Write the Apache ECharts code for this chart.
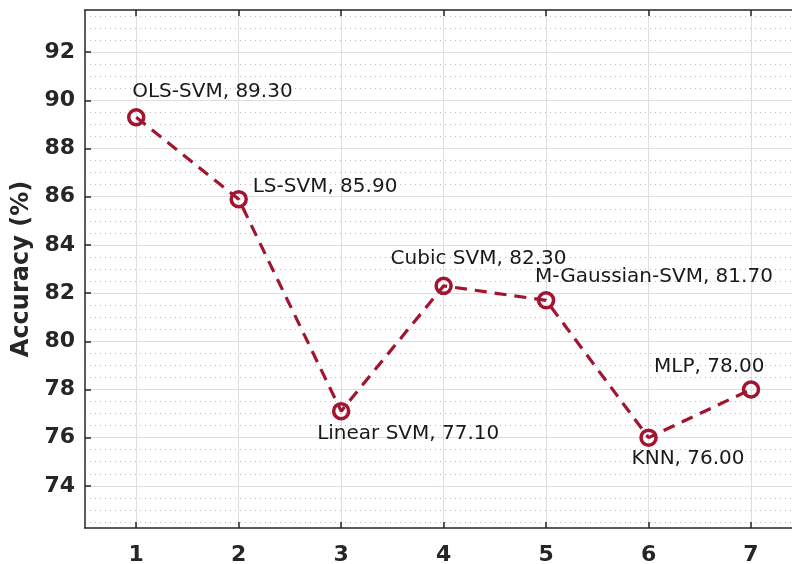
<!DOCTYPE html>
<html><head><meta charset="utf-8">
<script src="https://cdn.jsdelivr.net/npm/echarts@6/dist/echarts.min.js"></script>
<style>html,body{margin:0;padding:0;background:#fff}#c{width:792px;height:564px}</style>
</head><body><div id="c"></div>
<script>
const xValues = [1, 2, 3, 4, 5, 6, 7];
const models = ['OLS-SVM', 'LS-SVM', 'Linear SVM', 'Cubic SVM', 'M-Gaussian-SVM', 'KNN', 'MLP'];
const accuracy = [89.30, 85.90, 77.10, 82.30, 81.70, 76.00, 78.00];
const xTicks = [1, 2, 3, 4, 5, 6, 7];
const yTicks = [74, 76, 78, 80, 82, 84, 86, 88, 90, 92];
const yMinorTicks = [72.5, 73, 73.5, 74.5, 75, 75.5, 76.5, 77, 77.5, 78.5, 79, 79.5, 80.5, 81, 81.5,
  82.5, 83, 83.5, 84.5, 85, 85.5, 86.5, 87, 87.5, 88.5, 89, 89.5, 90.5, 91, 91.5, 92.5, 93, 93.5];

// label placement (style), px offsets from the marker centre
const labelOffsets = [[-4, -25], [14, -12], [-24, 23], [-53, -27], [-11, -24], [-17, 21], [-97, -23]];

const FONT = 'DejaVu Sans';
const AX = '#262626';
const RED = '#A2142F';

const chart = echarts.init(document.getElementById('c'), null, {renderer: 'canvas'});
const data = xValues.map((x, i) => ({
  value: [x, accuracy[i]],
  label: {offset: labelOffsets[i]}
}));

chart.setOption({
  animation: false,
  backgroundColor: '#fff',
  grid: {left: 85, top: 10, right: 0, bottom: 36, containLabel: false, outerBoundsMode: 'none'},
  xAxis: [{
    type: 'value', min: 0.5, max: 7.4, position: 'bottom',
    axisLine: {show: true, onZero: false, lineStyle: {color: AX, width: 1.5}},
    axisTick: {show: true, inside: true, length: 6, customValues: xTicks, lineStyle: {color: AX, width: 1.5}},
    axisLabel: {customValues: xTicks, margin: 16, color: AX, fontFamily: FONT, fontWeight: 'bold', fontSize: 22},
    splitLine: {show: true, lineStyle: {color: '#dedede', width: 1}}
  }, {
    type: 'value', min: 0.5, max: 7.4, position: 'top',
    axisLine: {show: true, onZero: false, lineStyle: {color: AX, width: 1.5}},
    axisTick: {show: true, inside: true, length: 6, customValues: xTicks, lineStyle: {color: AX, width: 1.5}},
    axisLabel: {show: false},
    splitLine: {show: false}
  }],
  yAxis: [{
    type: 'value', min: 72.25, max: 93.75,
    name: 'Accuracy (%)', nameLocation: 'middle', nameGap: 50,
    nameTextStyle: {color: AX, fontFamily: FONT, fontWeight: 'bold', fontSize: 24},
    axisLine: {show: true, onZero: false, lineStyle: {color: AX, width: 1.5}},
    axisTick: {show: true, inside: true, length: 6, customValues: yTicks, lineStyle: {color: AX, width: 1.5}},
    axisLabel: {customValues: yTicks, margin: 10, color: AX, fontFamily: FONT, fontWeight: 'bold', fontSize: 22},
    splitLine: {show: true, lineStyle: {color: '#dedede', width: 1}}
  }, {
    type: 'value', min: 72.25, max: 93.75, position: 'left',
    axisLine: {show: false},
    axisTick: {show: false, customValues: yMinorTicks},
    axisLabel: {show: false, customValues: yMinorTicks},
    splitLine: {show: true, lineStyle: {color: '#b8b8b8', width: 1, type: [1, 4]}}
  }],
  series: [{
    type: 'line',
    xAxisIndex: 0, yAxisIndex: 0,
    data: data,
    z: 5,
    lineStyle: {color: RED, width: 3.2, type: [12, 8]},
    symbol: 'circle', symbolSize: 15,
    itemStyle: {color: 'rgba(0,0,0,0)', borderColor: RED, borderWidth: 3.5},
    label: {
      show: true, position: 'inside', align: 'left', verticalAlign: 'middle',
      color: '#1a1a1a', fontFamily: FONT, fontSize: 20,
      formatter: p => models[p.dataIndex] + ', ' + accuracy[p.dataIndex].toFixed(2)
    },
    emphasis: {disabled: true}
  }]
});
</script>
</body></html>
